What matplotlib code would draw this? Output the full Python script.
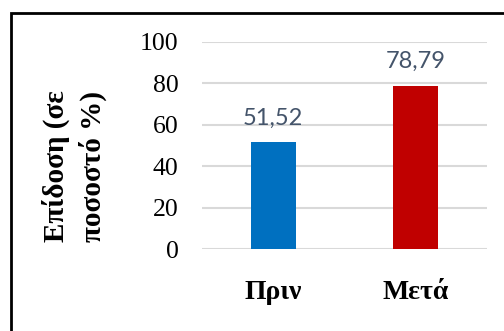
import matplotlib
matplotlib.use("Agg")
import matplotlib.pyplot as plt
from matplotlib.patches import Rectangle

categories = ["Πριν", "Μετά"]
values = [51.52, 78.79]
value_labels = ["51,52", "78,79"]
bar_colors = ["#0070C0", "#C00000"]
y_ticks = [0, 20, 40, 60, 80, 100]
y_label_lines = ["Επίδοση (σε", "ποσοστό %)"]

W, H = 504, 331
fig = plt.figure(figsize=(W / 100, H / 100), dpi=100)
fig.patch.set_facecolor("white")

# plot area in pixel coordinates
left, right, top, bottom = 202, 487, 42, 249
ax = fig.add_axes([left / W, 1 - bottom / H, (right - left) / W, (bottom - top) / H])

x = range(len(categories))
ax.bar(x, values, width=0.316, color=bar_colors, zorder=3)
ax.set_xlim(-0.5, len(categories) - 0.5)
ax.set_ylim(0, 100)
ax.set_yticks(y_ticks)
ax.yaxis.grid(True, color="#D9D9D9", linewidth=1.5, zorder=0)
ax.set_axisbelow(True)
for s in ax.spines.values():
    s.set_visible(False)
ax.tick_params(axis="both", length=0)
ax.tick_params(axis="y", pad=17)
for lab in ax.get_yticklabels():
    lab.set_fontfamily("Liberation Serif")
    lab.set_fontsize(18.5)
    lab.set_color("black")

ax.set_xticks(list(x))
ax.set_xticklabels(categories, fontfamily="Liberation Serif", fontweight="bold",
                   fontsize=20, color="black")
ax.tick_params(axis="x", pad=22)

for xi, v, t in zip(x, values, value_labels):
    ax.annotate(t, (xi, v), xytext=(0, 10), textcoords="offset points",
                ha="center", va="bottom", fontfamily="Lato", fontsize=17,
                color="#44546A")

# rotated two-line axis title; each line is right-aligned in the rotated frame
for xr, line in zip([70, 107], y_label_lines):
    fig.text(xr / W, 1 - 166 / H, line, rotation=90, ha="right", va="center",
             fontfamily="Liberation Serif", fontweight="bold", fontsize=21,
             color="black")

# chart frame
fig.patches.append(Rectangle((11 / W, -0.1), 1.2, 1 - 13 / H + 0.1,
                             transform=fig.transFigure, fill=False,
                             edgecolor="black", linewidth=2, clip_on=False))

fig.savefig("out.png", dpi=100)
